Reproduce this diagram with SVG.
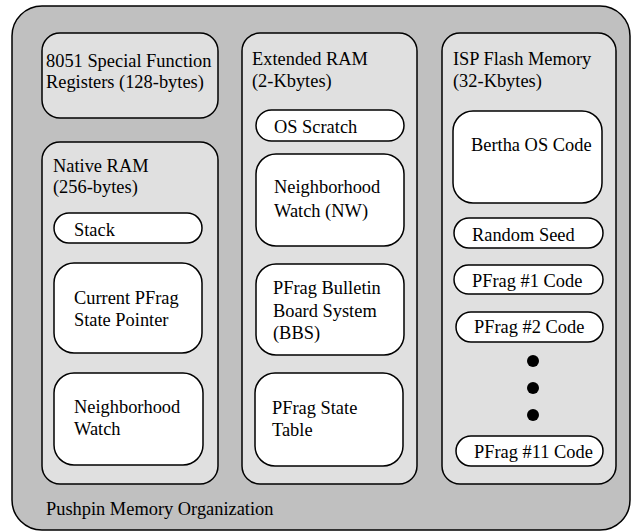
<svg xmlns="http://www.w3.org/2000/svg" width="632" height="532" viewBox="0 0 632 532">
<style>
  .box { stroke: #000; stroke-width: 1.5; }
  .outer { fill: #c0c0c0; }
  .col { fill: #e0e0e0; }
  .leaf { fill: #fff; }
  text { font-family: 'Liberation Serif', 'DejaVu Serif', serif; font-size: 18.4px; fill: #000; }
</style>
<rect width="632" height="532" fill="#fff"/>
<g id="pushpin">
  <rect class="box outer" x="12" y="6" width="618" height="524" rx="30"/>
  <text x="46" y="515">Pushpin Memory Organization</text>
</g>
<g id="sfr">
  <rect class="box col" x="42" y="33" width="176" height="85" rx="18"/>
  <text x="46" y="67">8051 Special Function</text>
  <text x="46" y="88">Registers (128-bytes)</text>
</g>
<g id="native-ram">
  <rect class="box col" x="42" y="142" width="176" height="342" rx="18"/>
  <text x="53" y="172">Native RAM</text>
  <text x="53" y="193">(256-bytes)</text>
</g>
<g id="stack">
  <rect class="box leaf" x="54" y="213" width="148" height="30" rx="15"/>
  <text x="74" y="236">Stack</text>
</g>
<g id="current-pfrag">
  <rect class="box leaf" x="54" y="263" width="148" height="90" rx="20"/>
  <text x="74" y="304">Current PFrag</text>
  <text x="74" y="326">State Pointer</text>
</g>
<g id="native-nw">
  <rect class="box leaf" x="54" y="373" width="149" height="92" rx="20"/>
  <text x="74" y="413">Neighborhood</text>
  <text x="74" y="435">Watch</text>
</g>
<g id="extended-ram">
  <rect class="box col" x="242" y="33" width="175" height="451" rx="18"/>
  <text x="252" y="65">Extended RAM</text>
  <text x="252" y="87">(2-Kbytes)</text>
</g>
<g id="os-scratch">
  <rect class="box leaf" x="256" y="110" width="148" height="31" rx="15.5"/>
  <text x="274" y="133">OS Scratch</text>
</g>
<g id="ext-nw">
  <rect class="box leaf" x="256" y="154" width="148" height="92" rx="20"/>
  <text x="274" y="193">Neighborhood</text>
  <text x="274" y="217">Watch (NW)</text>
</g>
<g id="bbs">
  <rect class="box leaf" x="256" y="264" width="148" height="91" rx="20"/>
  <text x="273" y="294">PFrag Bulletin</text>
  <text x="273" y="317">Board System</text>
  <text x="273" y="339">(BBS)</text>
</g>
<g id="state-table">
  <rect class="box leaf" x="255" y="373" width="148" height="93" rx="20"/>
  <text x="272" y="414">PFrag State</text>
  <text x="272" y="436">Table</text>
</g>
<g id="isp-flash">
  <rect class="box col" x="442" y="33" width="174" height="451" rx="18"/>
  <text x="453" y="65">ISP Flash Memory</text>
  <text x="453" y="87">(32-Kbytes)</text>
</g>
<g id="bertha">
  <rect class="box leaf" x="453" y="111" width="149" height="92" rx="20"/>
  <text x="471" y="151">Bertha OS Code</text>
</g>
<g id="random-seed">
  <rect class="box leaf" x="454" y="218" width="149" height="30" rx="15"/>
  <text x="472" y="241">Random Seed</text>
</g>
<g id="pfrag1">
  <rect class="box leaf" x="454" y="265" width="149" height="29" rx="14.5"/>
  <text x="472" y="287">PFrag #1 Code</text>
</g>
<g id="pfrag2">
  <rect class="box leaf" x="456" y="312" width="147" height="30" rx="15"/>
  <text x="474" y="333">PFrag #2 Code</text>
</g>
<g id="ellipsis">
  <circle cx="533" cy="361" r="6"/>
  <circle cx="533" cy="388" r="6"/>
  <circle cx="533" cy="415" r="6"/>
</g>
<g id="pfrag11">
  <rect class="box leaf" x="456" y="436" width="147" height="30" rx="15"/>
  <text x="474" y="458">PFrag #11 Code</text>
</g>
</svg>
